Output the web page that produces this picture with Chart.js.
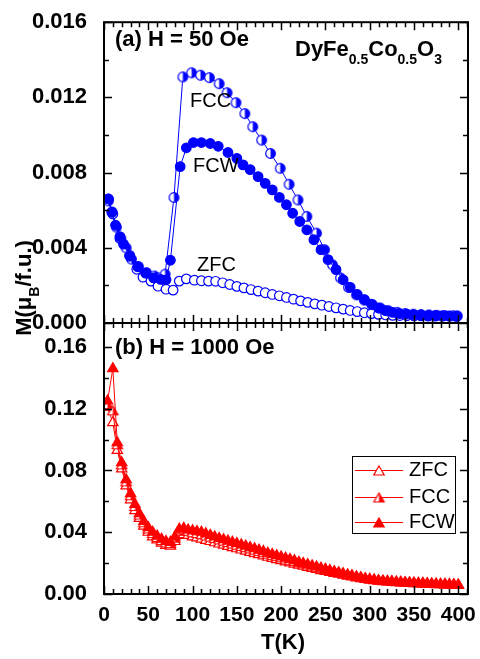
<!DOCTYPE html>
<html>
<head>
  <meta charset="utf-8">
  <title>DyFe0.5Co0.5O3 M(T)</title>
  <script src="https://cdn.jsdelivr.net/npm/chart.js"></script>
  <style>
    body { margin: 0; background: #fff; }
    #mt { display: block; }
  </style>
</head>
<body>
  <canvas id="mt" width="480" height="659"></canvas>
  <script>
    // (a) H = 50 Oe
    const tZfc50 = [5, 10, 18, 29, 37, 44, 53, 61, 70, 78, 85, 93, 102, 110, 118, 126, 134, 142, 150, 158, 166, 174, 182, 190, 198, 206, 214, 222, 230, 238, 246, 254, 262, 270, 278, 286, 294, 302, 310, 318, 326, 334, 342, 350, 358, 366, 374, 382, 390, 398];
    const mZfc50 = [0.0066, 0.0058, 0.0045, 0.0036, 0.00286, 0.00244, 0.00223, 0.00196, 0.0018, 0.00175,
      0.00223, 0.00235, 0.00228, 0.00225, 0.00223, 0.00222, 0.00214, 0.00205, 0.00195, 0.00187,
      0.00178, 0.0017, 0.00161, 0.00152, 0.00145, 0.00136, 0.00127, 0.00118, 0.0011, 0.00102,
      0.00095, 0.00088, 0.00081, 0.00074, 0.00067, 0.00061, 0.00055, 0.0005, 0.00046, 0.00043,
      0.00041, 0.0004, 0.00039, 0.00038, 0.00038, 0.00037, 0.00037, 0.00036, 0.00036, 0.00035];
    const tFcc50 = [5, 9, 14, 19, 25, 31, 39, 48, 57, 64, 69, 79, 89, 99, 109, 119, 130, 139, 149, 159, 168, 178, 188, 199, 209, 219, 229, 240, 249, 258, 267, 276, 285, 294, 303, 312, 321, 331, 340, 349, 358, 367, 376, 385, 394, 399];
    const mFcc50 = [0.0065, 0.0059, 0.0051, 0.0045, 0.0040, 0.0034, 0.0030, 0.00268, 0.0025, 0.0024,
      0.0026, 0.00668, 0.01309, 0.01331, 0.01318, 0.01305, 0.01273, 0.01225, 0.01172, 0.01114,
      0.01044, 0.00973, 0.00902, 0.00823, 0.00738, 0.00655, 0.00567, 0.00478, 0.0039, 0.0031,
      0.0024, 0.0019, 0.0015, 0.00122, 0.00098, 0.0008, 0.00066, 0.00057, 0.00051, 0.00047,
      0.00045, 0.00043, 0.00041, 0.0004, 0.00039, 0.00038];
    const tFcw50 = [5, 9, 13, 18, 22, 29, 38, 47, 56, 64, 70, 75, 86, 93, 101, 110, 120, 129, 140, 150, 157, 165, 174, 182, 190, 198, 206, 213, 221, 229, 237, 245, 253, 262, 270, 278, 286, 294, 302, 310, 318, 326, 334, 342, 350, 358, 366, 374, 382, 390, 398];
    const mFcw50 = [0.0066, 0.0059, 0.0052, 0.0046, 0.0042, 0.00355, 0.0030, 0.00265, 0.0024, 0.00232,
      0.0023, 0.00334, 0.00832, 0.00932, 0.0096, 0.0096, 0.00955, 0.0094, 0.00907, 0.00876,
      0.00841, 0.00816, 0.00779, 0.00743, 0.00708, 0.00668, 0.00629, 0.00584, 0.0054, 0.00496,
      0.00443, 0.0039, 0.00337, 0.00284, 0.0023, 0.0019, 0.00152, 0.00125, 0.001, 0.0008,
      0.00066, 0.00057, 0.0005, 0.00047, 0.00045, 0.00043, 0.00041, 0.0004, 0.00039, 0.00038, 0.00037];

    // (b) H = 1000 Oe
    const tK1000 = [4, 10, 15, 20, 25, 30, 35, 40, 45, 50, 55, 60, 65, 70, 75, 80, 85, 90, 95, 100,
      105, 110, 115, 120, 125, 130, 135, 140, 145, 150, 155, 160, 165, 170, 175, 180, 185, 190, 195, 200,
      205, 210, 215, 220, 225, 230, 235, 240, 245, 250, 255, 260, 265, 270, 275, 280, 285, 290, 295, 300,
      305, 310, 315, 320, 325, 330, 335, 340, 345, 350, 355, 360, 365, 370, 375, 380, 385, 390, 395, 400];
    const mZfc1000 = [0.121, 0.111, 0.093, 0.081, 0.070, 0.061, 0.054, 0.049, 0.044, 0.040,
      0.037, 0.035, 0.033, 0.0315, 0.031, 0.034, 0.038, 0.0385, 0.038, 0.037,
      0.0363, 0.0355, 0.0347, 0.034, 0.0332, 0.0324, 0.0316, 0.0308, 0.030, 0.0293,
      0.0285, 0.0278, 0.027, 0.0262, 0.0255, 0.0247, 0.0238, 0.0231, 0.0223, 0.0216,
      0.0208, 0.0201, 0.0194, 0.0187, 0.018, 0.0173, 0.0166, 0.0159, 0.0152, 0.0146,
      0.014, 0.0134, 0.0128, 0.0122, 0.0116, 0.011, 0.0105, 0.010, 0.0095, 0.009,
      0.0086, 0.0083, 0.008, 0.0078, 0.0076, 0.0074, 0.0072, 0.007, 0.0069, 0.0067,
      0.0066, 0.0065, 0.0063, 0.0062, 0.0061, 0.006, 0.0059, 0.0058, 0.0057, 0.0056];
    const mFcc1000 = [0.122, 0.118, 0.096, 0.083, 0.072, 0.063, 0.056, 0.0505, 0.0455, 0.0415,
      0.0385, 0.036, 0.034, 0.0325, 0.032, 0.0355, 0.040, 0.041, 0.040, 0.039,
      0.0385, 0.0378, 0.037, 0.0362, 0.0353, 0.0344, 0.0336, 0.0327, 0.0318, 0.031,
      0.0302, 0.0294, 0.0286, 0.0278, 0.027, 0.0261, 0.0252, 0.0244, 0.0236, 0.0228,
      0.022, 0.0212, 0.0205, 0.0197, 0.019, 0.0182, 0.0175, 0.0167, 0.016, 0.0153,
      0.0146, 0.014, 0.0133, 0.0126, 0.012, 0.0114, 0.0108, 0.0102, 0.0097, 0.0092,
      0.0088, 0.0084, 0.0081, 0.0079, 0.0077, 0.0075, 0.0073, 0.0071, 0.007, 0.0068,
      0.0067, 0.0066, 0.0064, 0.0063, 0.0062, 0.0061, 0.006, 0.0059, 0.0058, 0.0057];
    const mFcw1000 = [0.125, 0.146, 0.098, 0.085, 0.074, 0.065, 0.058, 0.052, 0.047, 0.043,
      0.040, 0.0375, 0.0355, 0.034, 0.0335, 0.037, 0.042, 0.0425, 0.0415, 0.041,
      0.0405, 0.040, 0.039, 0.038, 0.037, 0.036, 0.0352, 0.0343, 0.0335, 0.0327,
      0.0318, 0.031, 0.0301, 0.0293, 0.0284, 0.0275, 0.0264, 0.0256, 0.0248, 0.024,
      0.0232, 0.0224, 0.0216, 0.0205, 0.0198, 0.019, 0.0182, 0.0175, 0.0167, 0.016,
      0.0152, 0.0145, 0.0138, 0.0131, 0.0124, 0.0118, 0.0111, 0.0105, 0.0099, 0.0094,
      0.009, 0.0086, 0.0083, 0.0081, 0.0079, 0.0077, 0.0075, 0.0073, 0.0071, 0.007,
      0.0068, 0.0067, 0.0066, 0.0064, 0.0063, 0.0062, 0.0061, 0.006, 0.0058, 0.0057];

    // axis ticks
    const xTicks = [0, 50, 100, 150, 200, 250, 300, 350, 400];
    const yTicks50 = [0, 0.004, 0.008, 0.012, 0.016];
    const yTicks1000 = [0, 0.04, 0.08, 0.12, 0.16];

    const blue = '#0000ff';
    const red = '#ff0000';
    const FONT = "'Liberation Sans', Arial, sans-serif";
    const CIRCLE_R = 4.8;
    const TRI_R = 6;

    // open marker with the right half filled
    function halfMarker(shape, color, r) {
      const s = Math.ceil(2 * r + 3);
      const c = document.createElement('canvas');
      c.width = s; c.height = s;
      const g = c.getContext('2d');
      const cx = s / 2, cy = s / 2;
      const path = () => {
        g.beginPath();
        if (shape === 'circle') {
          g.arc(cx, cy, r, 0, Math.PI * 2);
        } else {
          g.moveTo(cx, cy - r);
          g.lineTo(cx + r * 0.866, cy + r / 2);
          g.lineTo(cx - r * 0.866, cy + r / 2);
          g.closePath();
        }
      };
      g.fillStyle = '#fff'; path(); g.fill();
      g.save();
      g.beginPath(); g.rect(cx, 0, s, s); g.clip();
      g.fillStyle = color; path(); g.fill();
      g.restore();
      g.strokeStyle = color; g.lineWidth = 1.2; path(); g.stroke();
      return c;
    }
    const halfCircle = halfMarker('circle', blue, CIRCLE_R);
    const halfTriangle = halfMarker('triangle', red, TRI_R);

    function pts(t, m) {
      return t.map((v, i) => ({ x: v, y: m[i] }));
    }

    function series(label, data, axis, color, style, fill, radius, order) {
      return {
        label: label,
        data: data,
        yAxisID: axis,
        showLine: true,
        borderColor: color,
        borderWidth: 1,
        pointStyle: style,
        pointRadius: radius,
        pointBorderColor: color,
        pointBackgroundColor: fill,
        pointBorderWidth: 1.2,
        order: order
      };
    }

    const datasets = [
      series('FCW', pts(tFcw50, mFcw50), 'yTop', blue, 'circle', blue, CIRCLE_R, 0),
      series('FCC', pts(tFcc50, mFcc50), 'yTop', blue, halfCircle, blue, CIRCLE_R, 1),
      series('ZFC', pts(tZfc50, mZfc50), 'yTop', blue, 'circle', '#fff', CIRCLE_R, 2),
      series('FCW', pts(tK1000, mFcw1000), 'yBot', red, 'triangle', red, TRI_R, 3),
      series('FCC', pts(tK1000, mFcc1000), 'yBot', red, halfTriangle, red, TRI_R, 4),
      series('ZFC', pts(tK1000, mZfc1000), 'yBot', red, 'triangle', '#fff', TRI_R, 5)
    ];

    const tickFont = { family: FONT, size: 22, weight: 'bold' };

    function yScale(ticks, max, weight, digits) {
      return {
        type: 'linear',
        position: 'left',
        stack: 'panels',
        stackWeight: weight,
        min: 0,
        max: max,
        grid: { display: false },
        border: { display: false },
        afterBuildTicks: s => { s.ticks = ticks.map(v => ({ value: v })); },
        afterFit: s => { s.width = 104; },
        ticks: {
          font: tickFont,
          color: '#000',
          padding: 9,
          callback: v => v.toFixed(digits)
        }
      };
    }

    // text with subscripts: parts = [[text, isSub], ...]
    function richText(ctx, parts, x, y, size, weight, center) {
      const full = `${weight} ${size}px ${FONT}`;
      const small = `${weight} ${Math.round(size * 0.64)}px ${FONT}`;
      let w = 0;
      parts.forEach(p => { ctx.font = p[1] ? small : full; w += ctx.measureText(p[0]).width; });
      let px = center ? x - w / 2 : x;
      ctx.textAlign = 'left';
      ctx.textBaseline = 'middle';
      parts.forEach(p => {
        ctx.font = p[1] ? small : full;
        ctx.fillText(p[0], px, p[1] ? y + size * 0.45 : y);
        px += ctx.measureText(p[0]).width;
      });
    }

    // box, inward ticks on all four sides and the panel divider
    const framePlugin = {
      id: 'frame',
      afterDatasetsDraw(chart) {
        const { ctx, chartArea: a } = chart;
        const x = chart.scales.x, yTop = chart.scales.yTop, yBot = chart.scales.yBot;
        const mid = yTop.bottom;
        ctx.save();
        ctx.strokeStyle = '#000';
        ctx.lineWidth = 2;
        ctx.strokeRect(a.left, a.top, a.right - a.left, a.bottom - a.top);
        ctx.beginPath();
        ctx.moveTo(a.left, mid); ctx.lineTo(a.right, mid);
        ctx.stroke();

        ctx.lineWidth = 1.5;
        ctx.beginPath();
        const seg = (x1, y1, x2, y2) => { ctx.moveTo(x1, y1); ctx.lineTo(x2, y2); };
        for (let i = 0; i <= 41; i++) {
          const px = Math.round(x.getPixelForValue(i * 10)) + 0.5;
          const len = i % 5 === 0 ? 8 : 5;
          seg(px, a.top, px, a.top + len);
          seg(px, mid, px, mid - len);
          seg(px, mid, px, mid + len);
          seg(px, a.bottom, px, a.bottom - len);
        }
        const yTicks = (scale, step, count) => {
          for (let i = 0; i <= count; i++) {
            const py = Math.round(scale.getPixelForValue(i * step)) + 0.5;
            if (py < scale.top - 1) continue;
            const len = i % 2 === 0 ? 8 : 5;
            seg(a.left, py, a.left + len, py);
            seg(a.right, py, a.right - len, py);
          }
        };
        yTicks(yTop, 0.002, 8);
        yTicks(yBot, 0.02, 8);
        ctx.stroke();
        ctx.restore();
      },
      afterDraw(chart) {
        const ctx = chart.ctx;
        ctx.save();
        ctx.fillStyle = '#000';

        richText(ctx, [['(a) H = 50 Oe', false]], 115, 40, 22, 'bold');
        richText(ctx, [['(b) H = 1000 Oe', false]], 115, 348, 22, 'bold');
        richText(ctx, [['DyFe', false], ['0.5', true], ['Co', false], ['0.5', true], ['O', false], ['3', true]], 295, 50, 22, 'bold');
        richText(ctx, [['T(K)', false]], 283, 643, 22, 'bold', true);

        ctx.save();
        ctx.translate(25, 288);
        ctx.rotate(-Math.PI / 2);
        richText(ctx, [['M(\u03bc', false], ['B', true], ['/f.u.)', false]], 0, 0, 22, 'bold', true);
        ctx.restore();

        richText(ctx, [['FCC', false]], 190, 101, 20, 'normal');
        richText(ctx, [['FCW', false]], 193, 166, 20, 'normal');
        richText(ctx, [['ZFC', false]], 197, 265, 20, 'normal');

        // legend for the 1000 Oe curves
        ctx.strokeStyle = '#000';
        ctx.lineWidth = 1;
        ctx.strokeRect(352.5, 456.5, 103, 77);
        const rows = [
          ['ZFC', 'triangle', '#fff', 470],
          ['FCC', halfTriangle, red, 497],
          ['FCW', 'triangle', red, 522]
        ];
        rows.forEach(r => {
          ctx.strokeStyle = red;
          ctx.lineWidth = 1;
          ctx.beginPath();
          ctx.moveTo(355, r[3] + 0.5); ctx.lineTo(403, r[3] + 0.5);
          ctx.stroke();
          ctx.fillStyle = r[2];
          ctx.lineWidth = 1.2;
          Chart.helpers.drawPoint(ctx, { pointStyle: r[1], radius: TRI_R, rotation: 0, borderWidth: 1.2 }, 379, r[3] + 2);
          ctx.fillStyle = '#000';
          richText(ctx, [[r[0], false]], 409, r[3], 20, 'normal');
        });
        ctx.restore();
      }
    };

    new Chart(document.getElementById('mt'), {
      type: 'scatter',
      data: { datasets: datasets },
      options: {
        responsive: false,
        animation: false,
        devicePixelRatio: 1,
        layout: { padding: { top: 20, right: 12, left: 0, bottom: 0 } },
        plugins: { legend: { display: false }, tooltip: { enabled: false } },
        scales: {
          x: {
            type: 'linear',
            min: 0,
            max: 411,
            grid: { display: false },
            border: { display: false },
            afterBuildTicks: s => { s.ticks = xTicks.map(v => ({ value: v })); },
            afterFit: s => { s.height = 65; },
            ticks: { font: { family: FONT, size: 21, weight: 'bold' }, color: '#000', padding: 1, maxRotation: 0, autoSkip: false }
          },
          // the stack is laid out bottom-up, so the lower panel comes first
          yBot: yScale(yTicks1000, 0.1755, 272, 2),
          yTop: yScale(yTicks50, 0.016, 302, 3)
        }
      },
      plugins: [framePlugin]
    });
  </script>
</body>
</html>
